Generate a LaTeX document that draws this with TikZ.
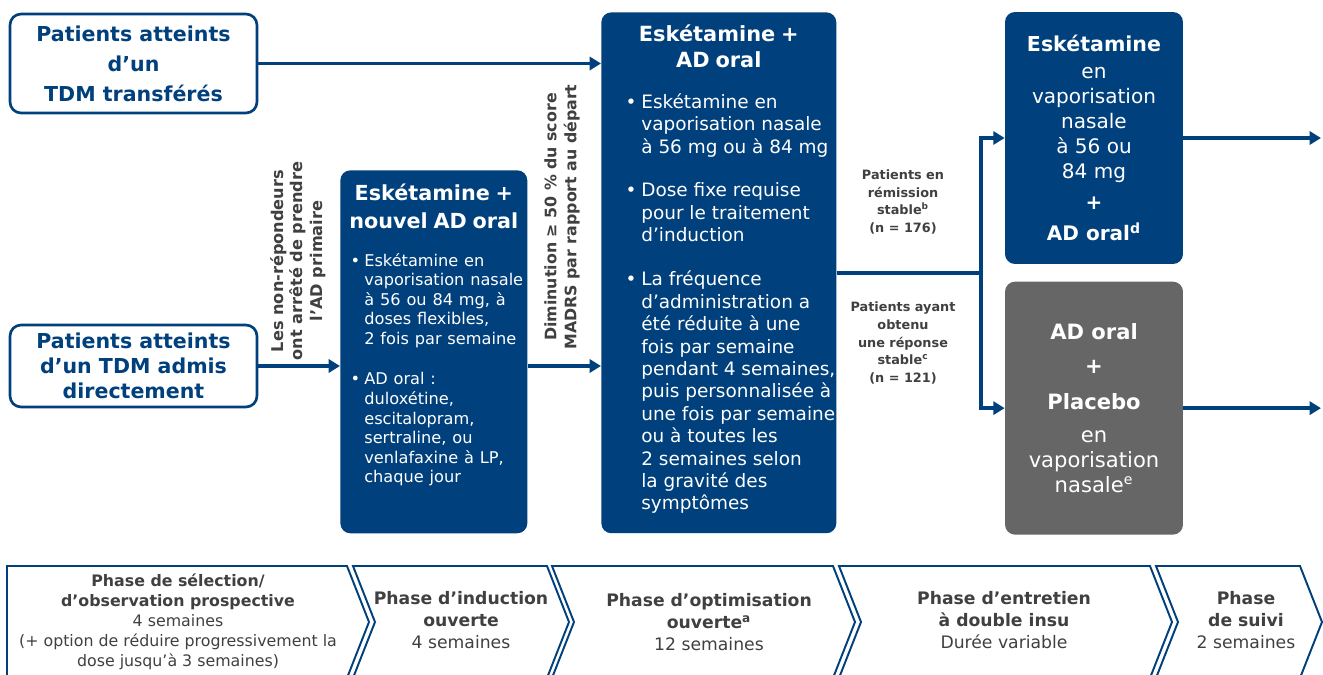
\documentclass[tikz,border=0pt]{standalone}
\usepackage{fontspec}
\setmainfont{DejaVu Sans}
\usepackage{tikz}
\usetikzlibrary{positioning,arrows.meta}
\usepackage{xcolor}

\definecolor{marine}{RGB}{0,64,124}
\definecolor{grisbox}{RGB}{102,102,102}
\definecolor{gristxt}{RGB}{64,64,64}

\newcommand{\fs}[2]{\fontsize{#1}{#2}\selectfont}
\newcommand{\puce}{\par\noindent\llap{\makebox[0.85em][l]{\textbullet}}}

\begin{document}
\begin{tikzpicture}[x=0.02cm, y=-0.02cm,
  entree/.style={draw=marine, line width=1.5pt, rounded corners=2.2mm, fill=white,
                 text=marine, align=center, minimum width=4.94cm},
  bloc/.style={fill=marine, rounded corners=2mm, text=white, inner xsep=0.08cm,
               inner ysep=0pt, align=left, anchor=north west},
  bras/.style={rounded corners=2mm, text=white, align=center, minimum width=3.56cm},
  etiq/.style={text=gristxt, align=center},
  phasetxt/.style={text=gristxt, align=center, font=\fs{9.8}{12.5}},
  chevron/.style={draw=marine, line width=1.1pt, fill=white},
  lien/.style={draw=marine, line width=1.9pt, -{Triangle[length=6.5pt, width=7.5pt]}},
  trait/.style={draw=marine, line width=1.9pt},
  ]
  \clip (0,0) rectangle (1323,675);
  \fill[white] (0,0) rectangle (1323,675);

  % patients a l'entree
  \node[entree, minimum height=1.98cm, font=\fs{11.7}{17}\bfseries]
        (transf) at (133.5,63.5) {Patients atteints\\d’un\\TDM transférés};
  \node[entree, minimum height=1.64cm, font=\fs{11.7}{14.2}\bfseries]
        (direct) at (133.5,366) {Patients atteints\\d’un TDM admis\\directement};

  % induction puis optimisation
  \node[bloc, text width=3.58cm, text height=0.6cm, text depth=6.66cm]
        (induc) at (340,170) {%
    {\centering\fs{11.8}{16}\bfseries Eskétamine +\\nouvel AD oral\par}
    \fs{9.2}{11.1}\leftskip=0.4cm\rightskip=-1cm plus 1fil
    \vspace{10.5pt}
    \puce Eskétamine en\\vaporisation nasale\\à 56 ou 84 mg, à\\doses flexibles,\\2 fois par semaine
    \par\vspace{12pt}
    \puce AD oral :\\duloxétine,\\escitalopram,\\sertraline, ou\\venlafaxine à LP,\\chaque jour\par};
  \node[bloc, text width=4.54cm, text height=0.58cm, text depth=9.84cm]
        (optim) at (601,12) {%
    {\centering\fs{11.9}{14.8}\bfseries Eskétamine +\\AD oral\par}
    \fs{10.5}{12.75}\leftskip=0.72cm\rightskip=-1cm plus 1fil
    \vspace{10.6pt}
    \puce Eskétamine en\\vaporisation nasale\\à 56 mg ou à 84 mg
    \par\vspace{12pt}
    \puce Dose fixe requise\\pour le traitement\\d’induction
    \par\vspace{12.5pt}
    \puce La fréquence\\d’administration a\\été réduite à une\\fois par semaine\\pendant 4 semaines,\\puis personnalisée à\\une fois par semaine\\ou à toutes les\\2 semaines selon\\la gravité des\\symptômes\par};

  % bras de l'entretien
  \node[bras, fill=marine, minimum height=5.04cm, font=\fs{11.4}{14.2}]
        (esk) at (1094,138) {\textbf{\fs{11.7}{14.2}Eskétamine}\\[1.2pt]en\\vaporisation\\nasale\\à 56 ou\\84 mg\\[3.4pt]
          \textbf{+}\\[3.4pt]\textbf{AD oral\textsuperscript{d}}};
  \node[bras, fill=grisbox, minimum height=5.06cm, below=0.34cm of esk, font=\fs{12}{14.2}]
        (plac) {\textbf{AD oral}\\[5pt]\textbf{+}\\[6pt]\textbf{Placebo}\\[4.6pt]en\\vaporisation\\nasale\textsuperscript{e}};

  % textes le long des fleches
  \node[etiq, rotate=90, font=\fs{9.2}{11.1}\bfseries]
        (nonrep) at (298,261) {Les non-répondeurs\\ont arrêté de prendre\\l’AD primaire};
  \node[etiq, rotate=90, font=\fs{9}{11.4}\bfseries]
        (baisse) at (562,217) {Diminution ≥ 50 \% du score\\MADRS par rapport au départ};
  \node[etiq, font=\fs{7.3}{10}\bfseries]
        (remis) at (903,202) {Patients en\\rémission\\stable\textsuperscript{b}\\(n = 176)};
  \node[etiq, font=\fs{7.3}{10}\bfseries]
        (repon) at (903,343) {Patients ayant\\obtenu\\une réponse\\stable\textsuperscript{c}\\(n = 121)};

  \draw[lien] (transf.east) -- (transf.east -| optim.west);
  \draw[lien] (direct.east) -- (direct.east -| induc.west);
  \draw[lien] (induc.east |- direct.east) -- (direct.east -| optim.west);
  \coordinate (fourche) at (981,273);
  \draw[trait] (optim.east |- fourche) -- (fourche);
  \draw[lien] (fourche) |- (esk.west);
  \draw[lien] (fourche) |- (plac.west);
  \coordinate (sortie) at (1321,0);
  \draw[lien] (esk.east) -- (esk.east -| sortie);
  \draw[lien] (plac.east) -- (plac.east -| sortie);

  % frise des phases
  \draw[chevron] (7,566) -- (347,566) -- (369,622) -- (347,678) -- (7,678) -- cycle;
  \foreach \g/\d in {353/547, 552/833, 839/1150, 1156/1300}
    \draw[chevron] (\g,566) -- (\d,566) -- (\d+22,622) -- (\d,678) -- (\g,678) -- (\g+22,622) -- cycle;

  \node[phasetxt, font=\fs{9}{11.4}] (selec) at (178,622)
        {\textbf{Phase de sélection/}\\\textbf{d’observation prospective}\\4 semaines\\(+ option de réduire progressivement la\\dose jusqu’à 3 semaines)};
  \node[phasetxt] (ouvind) at (461,620) {\textbf{Phase d’induction}\\\textbf{ouverte}\\4 semaines};
  \node[phasetxt] (ouvopt) at (709,622) {\textbf{Phase d’optimisation}\\\textbf{ouverte\textsuperscript{a}}\\12 semaines};
  \node[phasetxt] (entr) at (1004,620) {\textbf{Phase d’entretien}\\\textbf{à double insu}\\Durée variable};
  \node[phasetxt] (suivi) at (1246,620) {\textbf{Phase}\\\textbf{de suivi}\\2 semaines};
\end{tikzpicture}
\end{document}
